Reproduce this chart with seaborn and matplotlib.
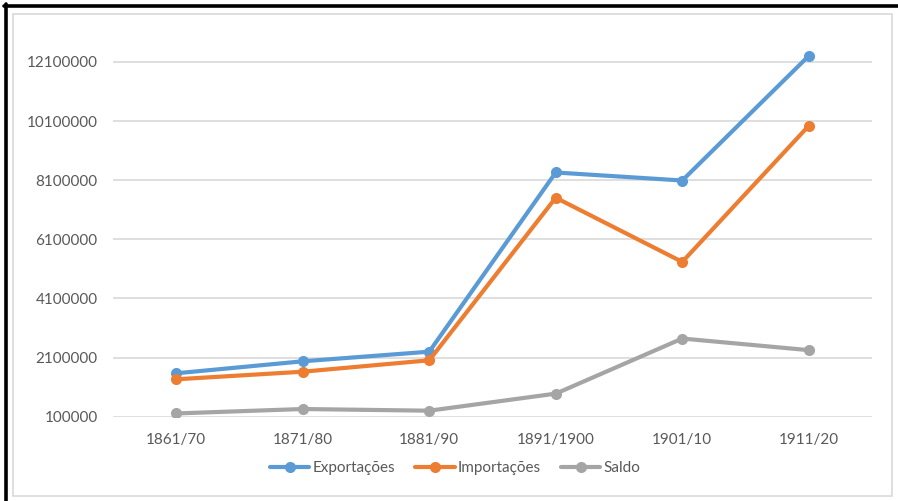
import matplotlib
matplotlib.use("Agg")
import matplotlib.pyplot as plt
from matplotlib.patches import Rectangle
from matplotlib.lines import Line2D
import seaborn as sns
import pandas as pd

# Decadal trade figures
periodos = ["1861/70", "1871/80", "1881/90", "1891/1900", "1901/10", "1911/20"]
exportacoes = [1568000, 1974000, 2299000, 8360000, 8089000, 12304000]
importacoes = [1365000, 1622000, 2008000, 7507000, 5336000, 9939000]
saldo = [210000, 360000, 303000, 880000, 2744000, 2351000]

series_nomes = ["Exportações", "Importações", "Saldo"]
cores = ["#5B9BD5", "#ED7D31", "#A5A5A5"]
y_ticks = [100000, 2100000, 4100000, 6100000, 8100000, 10100000, 12100000]

df = pd.DataFrame({
    "periodo": periodos * 3,
    "valor": exportacoes + importacoes + saldo,
    "serie": [series_nomes[0]] * 6 + [series_nomes[1]] * 6 + [series_nomes[2]] * 6,
})

sns.set_theme(style="white")
plt.rcParams["font.family"] = ["Lato", "DejaVu Sans"]

W, H = 898, 501
fig = plt.figure(figsize=(W / 100, H / 100), dpi=100)

# plot area in pixel coordinates
px_left, px_right = 113, 872
px_top, px_bottom = 14, 416.7
ax = fig.add_axes([px_left / W, (H - px_bottom) / H,
                   (px_right - px_left) / W, (px_bottom - px_top) / H])

sns.lineplot(data=df, x="periodo", y="valor", hue="serie", hue_order=series_nomes,
             palette=cores, marker="o", markersize=8, markeredgewidth=0,
             linewidth=3, sort=False, legend=False, ax=ax, zorder=3)

ax.set_xlim(-0.5, 5.5)
ax.set_ylim(100000, 100000 + (px_bottom - px_top) / 59.13 * 2000000)
ax.set_yticks(y_ticks)
ax.set_yticklabels([str(v) for v in y_ticks])
ax.grid(axis="y", color="#D9D9D9", linewidth=1.2, zorder=0)
ax.grid(axis="x", visible=False)
for s in ax.spines.values():
    s.set_visible(False)
ax.tick_params(axis="both", length=0, labelsize=11, labelcolor="#595959")
ax.tick_params(axis="y", pad=11)
ax.tick_params(axis="x", pad=12)
ax.set_xlabel("")
ax.set_ylabel("")

handles = [Line2D([0], [0], color=c, lw=3, marker="o", markersize=8, markeredgewidth=0)
           for c in cores]
fig.legend(handles, series_nomes, loc="center", bbox_to_anchor=(455 / W, 1 - 468 / H),
           ncol=3, frameon=False, fontsize=11, labelcolor="#595959",
           handlelength=2.6, handletextpad=0.2, columnspacing=1.3)

# light chart frame
fig.patches.append(Rectangle((13 / W, 1 - 496 / H), (892 - 13) / W, (496 - 14) / H,
                             transform=fig.transFigure, fill=False,
                             edgecolor="#D9D9D9", linewidth=1.2))
# black outer border on top and left
fig.lines.append(Line2D([4 / W, 1], [1 - 5.5 / H, 1 - 5.5 / H],
                        transform=fig.transFigure, color="black", linewidth=2.6))
fig.lines.append(Line2D([5.5 / W, 5.5 / W], [0, 1 - 4 / H],
                        transform=fig.transFigure, color="black", linewidth=2.6))

fig.savefig("out.png", dpi=100)
